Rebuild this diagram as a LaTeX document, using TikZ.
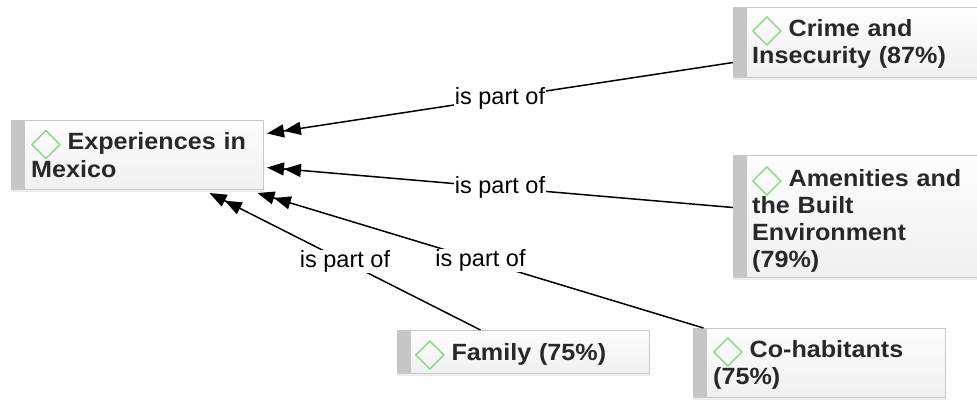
\documentclass[tikz,border=0pt]{standalone}
\usepackage{fontspec}
\usetikzlibrary{arrows.meta,shadows}
\newfontfamily\boxfont[FakeStretch=1.07]{Liberation Sans Bold}
\newfontfamily\lblfont{Liberation Sans}
\definecolor{bordc}{RGB}{200,200,200}
\definecolor{barc}{RGB}{198,198,198}
\definecolor{boxtop}{RGB}{253,253,253}
\definecolor{boxbot}{RGB}{240,240,240}
\definecolor{txtc}{RGB}{40,40,40}
\definecolor{diamc}{RGB}{145,210,140}
% small outlined diamond that leads every code name
\newcommand\gdiam{\tikz[baseline=0pt,x=1pt,y=1pt]\draw[diamc,line width=1.4pt] (0,5)--(14,19)--(28,5)--(14,-9)--cycle;}
\tikzset{
  box/.style={draw=bordc, line width=1pt, anchor=north west, inner sep=0pt,
    top color=boxtop, bottom color=boxbot,
    drop shadow={shadow xshift=0.6pt, shadow yshift=-2pt, opacity=0.08, fill=black},
    path picture={\fill[barc] (path picture bounding box.north west) rectangle ([xshift=13pt]path picture bounding box.south west);}},
  btext/.style={anchor=base west, inner sep=0pt, text width=235pt, align=left,
    font=\boxfont\fontsize{23.5pt}{26.7pt}\selectfont, text=txtc},
  lbl/.style={fill=white, inner xsep=1pt, inner ysep=1pt,
    font=\lblfont\fontsize{23.5pt}{26pt}\selectfont, text=black},
  tipx/.tip={Triangle[length=17pt,width=13pt,sep=0pt]},
  arr/.style={draw=black, line width=1.5pt, -{tipx[]tipx[]}}
}
\begin{document}
\begin{tikzpicture}[x=1pt,y=-1pt]
\useasboundingbox (0,0) rectangle (977,399);
\clip (0,0) rectangle (977,399);

% code boxes
\node[box, minimum width=252pt, minimum height=69pt] (exp) at (11,120) {};
\node[box, minimum width=262pt, minimum height=70pt] (crime) at (733,7) {};
\node[box, minimum width=262pt, minimum height=122pt] (amen) at (733,155) {};
\node[box, minimum width=252pt, minimum height=43pt] (fam) at (397,330) {};
\node[box, minimum width=252pt, minimum height=69pt] (cohab) at (693,328) {};

% box captions
\node[btext] (expT) at ([xshift=20pt,yshift=-29.5pt]exp.north west) {\gdiam\hspace{7pt}Experiences in\\Mexico};
\node[btext] (crimeT) at ([xshift=19pt,yshift=-29pt]crime.north west) {\gdiam\hspace{7pt}Crime and\\Insecurity (87\%)};
\node[btext] (amenT) at ([xshift=19pt,yshift=-31pt]amen.north west) {\gdiam\hspace{7pt}Amenities and\\the Built\\Environment\\(79\%)};
\node[btext] (famT) at ([xshift=18pt,yshift=-30pt]fam.north west) {\gdiam\hspace{7pt}Family (75\%)};
\node[btext] (cohabT) at ([xshift=20pt,yshift=-29pt]cohab.north west) {\gdiam\hspace{7pt}Co-habitants\\(75\%)};

% relations
\draw[arr] ([yshift=-20pt]crime.west) -- node[lbl] (l1) {is part of} ([xshift=3pt,yshift=21.5pt]exp.east);
\draw[arr] ([yshift=9pt]amen.west) -- node[lbl] (l2) {is part of} ([xshift=3pt,yshift=-12.5pt]exp.east);
\draw[arr] ([xshift=-43pt]fam.north) -- node[lbl] (l3) {is part of} ([xshift=72pt,yshift=-3pt]exp.south);
\draw[arr] ([xshift=-116pt]cohab.north) -- node[lbl] (l4) {is part of} ([xshift=120pt,yshift=-3pt]exp.south);
\end{tikzpicture}
\end{document}
